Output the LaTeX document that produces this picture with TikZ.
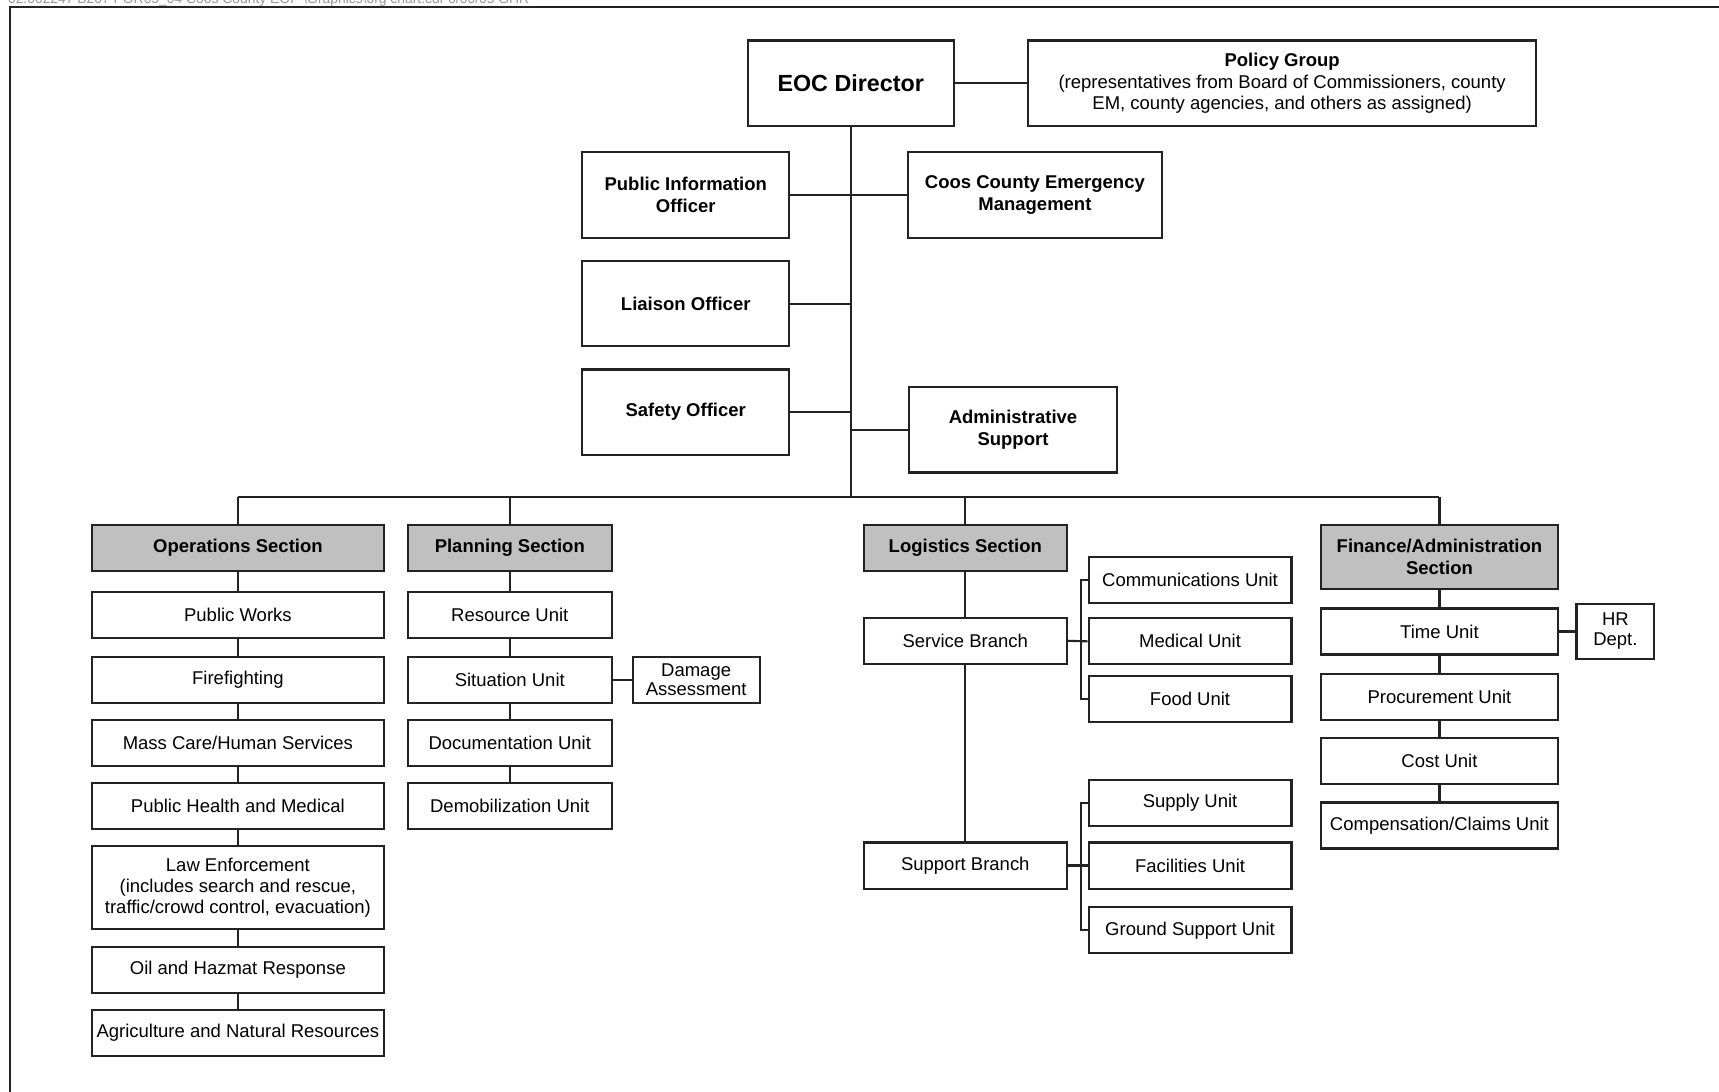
\documentclass[tikz,border=0pt]{standalone}
\usepackage{fontspec}
\setmainfont{Liberation Sans}
\usetikzlibrary{positioning,calc}
\definecolor{lineblk}{RGB}{35,35,35}
\definecolor{secgrey}{RGB}{192,192,192}
\definecolor{hdrgrey}{RGB}{150,150,150}
\tikzset{
  box/.style={draw=lineblk,fill=white,line width=1.1pt,align=center,inner sep=0pt,
              font=\fontsize{9.6}{11}\selectfont},
  boxb/.style={box,font=\fontsize{9.6}{11.5}\selectfont\bfseries},
  secbox/.style={boxb,fill=secgrey},
  cmd/.style={boxb,minimum height=15.6mm},
  unit/.style={box,minimum height=8.4mm},
  small/.style={box,font=\fontsize{9.6}{10.3}\selectfont},
  link/.style={draw=lineblk,line width=1.1pt},
}

\begin{document}
\begin{tikzpicture}[x=0.2mm,y=-0.2mm]
  \useasboundingbox (0,0) rectangle (1568,996);

  % sheet edge and file stamp
  \node[font=\fontsize{7.2}{9}\selectfont,text=hdrgrey,anchor=base west,inner sep=0] (stamp)
    at (7,3.5) {02.002247 B207 POR05\_04 Coos County EOP \textbackslash Graphics\textbackslash org chart.cdr 0/00/05 GHR};
  \draw[lineblk,line width=1.1pt] (9,996) -- (9,6) -- (1568,6);

  % ---------------- command staff ----------------
  \node[box,font=\fontsize{12.1}{14}\selectfont\bfseries,minimum width=37.6mm,minimum height=15.6mm]
    (dir) at (776,76) {EOC Director};
  \node[box,minimum width=92.6mm,minimum height=15.6mm] (policy) at (1169.5,76)
    {\textbf{Policy Group}\\(representatives from Board of Commissioners, county\\EM, county agencies, and others as assigned)};
  \node[cmd,minimum width=37.8mm] (pio) at (625.5,178) {Public Information\\Officer};
  \node[cmd,minimum width=46.4mm] (ccem) at (944,178) {Coos County Emergency\\Management};
  \node[cmd,minimum width=37.8mm] (liaison) at (625.5,277) {Liaison Officer};
  \node[cmd,minimum width=37.8mm] (safety) at (625.5,376) {Safety Officer};
  \node[cmd,minimum width=38mm] (admin) at (924,392) {Administrative\\Support};
  \coordinate (bus) at (776,453);

  \draw[link] (dir) -- (policy);
  \draw[link] (dir.south) -- (bus);
  \draw[link] (pio) -- (ccem);
  \draw[link] (liaison.east) -- (liaison.east -| bus);
  \draw[link] (safety.east) -- (safety.east -| bus);
  \draw[link] (admin.west) -- (admin.west -| bus);

  % ---------------- sections ----------------
  \node[secbox,minimum width=53.2mm,minimum height=8.4mm] (ops) at (217,500) {Operations Section};
  \node[secbox,minimum width=37.2mm,minimum height=8.4mm] (plan) at (465,500) {Planning Section};
  \node[secbox,minimum width=37mm,minimum height=8.4mm] (log) at (880.5,500) {Logistics Section};
  \node[secbox,minimum width=43.2mm,minimum height=11.6mm] (fin) at (1313,508) {Finance/Administration\\Section};

  \draw[link] (ops.north |- bus) -- (fin.north |- bus);
  \foreach \s in {ops,plan,log,fin}
    \draw[link] (\s.north) -- (\s.north |- bus);

  % operations
  \foreach \i/\y/\h/\t in {1/561/8.4/Public Works,2/620/8.4/Firefighting,
      3/677.5/8.4/{Mass Care/Human Services},4/735/8.4/Public Health and Medical,
      5/809.5/15/{Law Enforcement\\(includes search and rescue,\\traffic/crowd control, evacuation)},
      6/884.5/8.4/Oil and Hazmat Response,7/942/8.4/Agriculture and Natural Resources}
    \node[box,minimum width=53.2mm,minimum height=\h mm] (ops\i) at (217,\y) {\t};
  \draw[link] (ops) -- (ops1);
  \foreach \i/\j in {1/2,2/3,3/4,4/5,5/6,6/7}
    \draw[link] (ops\i) -- (ops\j);

  % planning
  \foreach \i/\y/\t in {1/561/Resource Unit,2/620/Situation Unit,
      3/677.5/Documentation Unit,4/735/Demobilization Unit}
    \node[unit,minimum width=37.2mm] (plan\i) at (465,\y) {\t};
  \node[small,minimum width=23.2mm,minimum height=8.4mm] (dmg) at (635,620) {Damage\\Assessment};
  \draw[link] (plan) -- (plan1);
  \foreach \i/\j in {1/2,2/3,3/4}
    \draw[link] (plan\i) -- (plan\j);
  \draw[link] (plan2) -- (dmg);

  % logistics
  \node[unit,minimum width=37mm] (svc) at (880.5,584.5) {Service Branch};
  \node[unit,minimum width=37mm] (sup) at (880.5,789.5) {Support Branch};
  \foreach \n/\y/\t in {comm/529/Communications Unit,med/585/Medical Unit,food/637.5/Food Unit,
      supply/732.5/Supply Unit,fac/789.5/Facilities Unit,ground/848.5/Ground Support Unit}
    \node[unit,minimum width=37mm] (\n) at (1085.5,\y) {\t};
  \draw[link] (log) -- (svc);
  \draw[link] (svc) -- (sup);
  \coordinate (svcfork) at ($(svc.east)+(12,0)$);
  \coordinate (supfork) at ($(sup.east)+(12,0)$);
  \draw[link] (comm.west) -| (svcfork) |- (food.west);
  \draw[link] (svc.east) -- (med.west);
  \draw[link] (supply.west) -| (supfork) |- (ground.west);
  \draw[link] (sup.east) -- (fac.west);

  % finance / administration
  \foreach \i/\y/\t in {1/576/Time Unit,2/636/Procurement Unit,3/694/Cost Unit,
      4/753/{Compensation/Claims Unit}}
    \node[unit,minimum width=43.2mm] (fin\i) at (1313,\y) {\t};
  \node[small,minimum width=14.2mm,minimum height=10mm] (hr) at (1473.5,576) {HR\\Dept.};
  \draw[link] (fin) -- (fin1);
  \foreach \i/\j in {1/2,2/3,3/4}
    \draw[link] (fin\i) -- (fin\j);
  \draw[link] (fin1) -- (hr);
\end{tikzpicture}
\end{document}
